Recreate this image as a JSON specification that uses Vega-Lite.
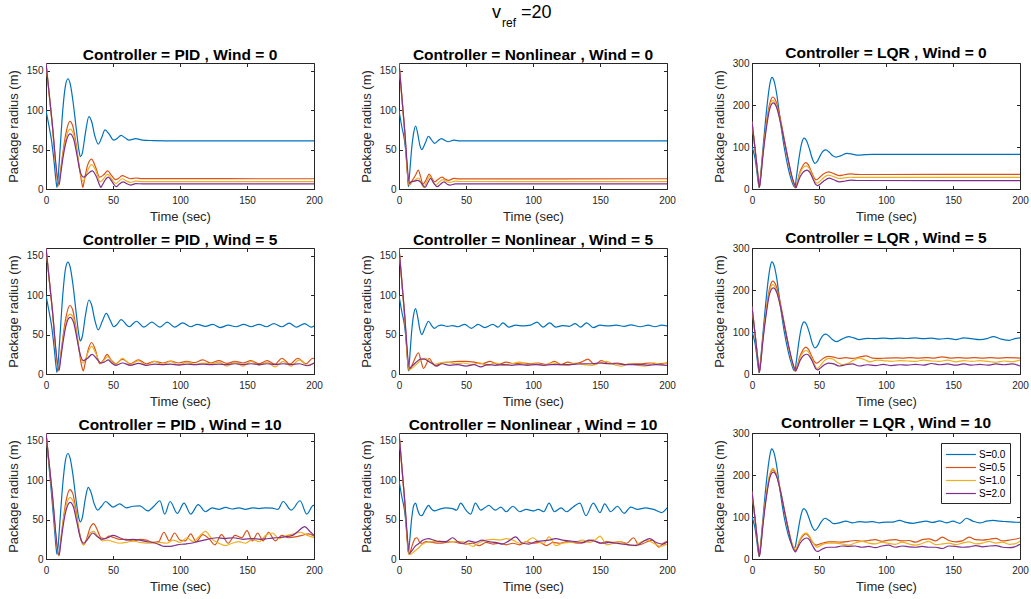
{
"$schema":"https://vega.github.io/schema/vega-lite/v6.json",
"background":"white",
"padding":{"left":6,"top":4,"right":5,"bottom":5},
"title":{"text":"v\u00a0\u00a0\u00a0\u00a0=20","subtitle":"\u200b\u00a0\u00a0\u00a0ref","fontSize":18,"fontWeight":"normal","font":"Liberation Sans","color":"#000","subtitleFontSize":12,"subtitleFont":"Liberation Sans","subtitleColor":"#000","subtitlePadding":-4,"anchor":"start","align":"left","frame":"group","dx":446,"offset":16},
"config":{
"font":"Liberation Sans",
"view":{"stroke":"#262626","strokeWidth":1},
"axis":{"grid":false,"labelFont":"Liberation Sans","labelFontSize":10,"labelColor":"#262626","titleFont":"Liberation Sans","titleFontSize":13,"titleFontWeight":"normal","titleColor":"#262626","domainColor":"#262626","tickColor":"#262626","tickSize":-3.5,"labelFlush":false,"labelOverlap":false},
"axisX":{"labelPadding":9.5,"titlePadding":5},
"axisY":{"labelPadding":6.5,"titlePadding":6},
"title":{"font":"Liberation Sans","fontSize":15.5,"fontWeight":"bold","color":"#000","offset":-3}
},
"datasets":{
"p0":[
{"s":0,"t":0,"r":100},{"s":0,"t":2,"r":82},{"s":0,"t":4,"r":63},{"s":0,"t":6,"r":35},{"s":0,"t":7.5,"r":10},{"s":0,"t":8.2,"r":2},{"s":0,"t":9,"r":14},{"s":0,"t":10.5,"r":50},{"s":0,"t":12.5,"r":100},{"s":0,"t":14.5,"r":131},{"s":0,"t":16.3,"r":140},{"s":0,"t":18,"r":134},{"s":0,"t":20,"r":113},{"s":0,"t":22.5,"r":78},{"s":0,"t":24.5,"r":50},{"s":0,"t":25.7,"r":41},{"s":0,"t":27,"r":45},{"s":0,"t":29.5,"r":72},{"s":0,"t":32,"r":92},{"s":0,"t":34,"r":86},{"s":0,"t":36.5,"r":67},{"s":0,"t":39,"r":57},{"s":0,"t":41.5,"r":65},{"s":0,"t":44,"r":75},{"s":0,"t":47,"r":70},{"s":0,"t":50.5,"r":62},{"s":0,"t":53,"r":64},{"s":0,"t":56,"r":68},{"s":0,"t":59,"r":65},{"s":0,"t":62,"r":62},{"s":0,"t":67,"r":64},{"s":0,"t":72,"r":62},{"s":0,"t":80,"r":61.5},{"s":0,"t":100,"r":61},{"s":0,"t":200,"r":61},
{"s":0.5,"t":0,"r":160},{"s":0.5,"t":4.5,"r":85},{"s":0.5,"t":9.4,"r":4},{"s":0.5,"t":10.5,"r":18},{"s":0.5,"t":12.5,"r":45},{"s":0.5,"t":15,"r":72},{"s":0.5,"t":17.8,"r":86},{"s":0.5,"t":20,"r":80},{"s":0.5,"t":22,"r":62},{"s":0.5,"t":24.5,"r":32},{"s":0.5,"t":26.5,"r":10},{"s":0.5,"t":27.5,"r":2},{"s":0.5,"t":28.5,"r":10},{"s":0.5,"t":31,"r":30},{"s":0.5,"t":34,"r":38},{"s":0.5,"t":37,"r":28},{"s":0.5,"t":40,"r":15},{"s":0.5,"t":43,"r":18},{"s":0.5,"t":46,"r":23},{"s":0.5,"t":49,"r":17},{"s":0.5,"t":52,"r":12},{"s":0.5,"t":54.5,"r":14},{"s":0.5,"t":57,"r":17},{"s":0.5,"t":60,"r":15},{"s":0.5,"t":63,"r":13},{"s":0.5,"t":67,"r":14},{"s":0.5,"t":72,"r":13.2},{"s":0.5,"t":200,"r":13},
{"s":1,"t":0,"r":160},{"s":1,"t":4.5,"r":85},{"s":1,"t":9.5,"r":5},{"s":1,"t":10.6,"r":18},{"s":1,"t":12.5,"r":42},{"s":1,"t":15,"r":65},{"s":1,"t":18,"r":76},{"s":1,"t":20.5,"r":70},{"s":1,"t":23,"r":48},{"s":1,"t":25.5,"r":22},{"s":1,"t":27.5,"r":10},{"s":1,"t":29,"r":13},{"s":1,"t":31.5,"r":25},{"s":1,"t":34,"r":31},{"s":1,"t":37,"r":24},{"s":1,"t":40.5,"r":9},{"s":1,"t":43,"r":13},{"s":1,"t":46,"r":19},{"s":1,"t":49,"r":13},{"s":1,"t":52,"r":7},{"s":1,"t":54.5,"r":10},{"s":1,"t":57,"r":13},{"s":1,"t":60,"r":10},{"s":1,"t":63,"r":8.5},{"s":1,"t":67,"r":10},{"s":1,"t":72,"r":9.4},{"s":1,"t":200,"r":9.3},
{"s":2,"t":0,"r":160},{"s":2,"t":4.5,"r":86},{"s":2,"t":9.8,"r":6},{"s":2,"t":10.8,"r":17},{"s":2,"t":12.5,"r":38},{"s":2,"t":15,"r":60},{"s":2,"t":18,"r":70},{"s":2,"t":20.5,"r":64},{"s":2,"t":23,"r":44},{"s":2,"t":25.5,"r":22},{"s":2,"t":28,"r":15},{"s":2,"t":30.5,"r":18},{"s":2,"t":34.5,"r":23},{"s":2,"t":37.5,"r":16},{"s":2,"t":40,"r":5},{"s":2,"t":41,"r":2},{"s":2,"t":42,"r":5},{"s":2,"t":44,"r":11},{"s":2,"t":46.5,"r":15},{"s":2,"t":49,"r":10},{"s":2,"t":51.5,"r":4},{"s":2,"t":52.5,"r":3},{"s":2,"t":54.5,"r":6},{"s":2,"t":57.5,"r":9},{"s":2,"t":60,"r":7},{"s":2,"t":63,"r":5},{"s":2,"t":67,"r":6.8},{"s":2,"t":72,"r":6.5},{"s":2,"t":200,"r":6.5}
],
"n0":[
{"s":0,"t":0,"r":100},{"s":0,"t":2,"r":80},{"s":0,"t":4,"r":63},{"s":0,"t":5.5,"r":40},{"s":0,"t":6.5,"r":15},{"s":0,"t":7,"r":3},{"s":0,"t":7.7,"r":15},{"s":0,"t":9.5,"r":52},{"s":0,"t":11,"r":72},{"s":0,"t":12.4,"r":80},{"s":0,"t":14,"r":70},{"s":0,"t":15.5,"r":56},{"s":0,"t":17,"r":50},{"s":0,"t":19.5,"r":58},{"s":0,"t":22,"r":67},{"s":0,"t":24,"r":63},{"s":0,"t":26.6,"r":58},{"s":0,"t":29,"r":61},{"s":0,"t":31.5,"r":64},{"s":0,"t":34,"r":62},{"s":0,"t":36.5,"r":60},{"s":0,"t":41,"r":62},{"s":0,"t":46,"r":61},{"s":0,"t":200,"r":61},
{"s":0.5,"t":0,"r":160},{"s":0.5,"t":4,"r":78},{"s":0.5,"t":7.3,"r":5},{"s":0.5,"t":8.3,"r":6},{"s":0.5,"t":10,"r":11},{"s":0.5,"t":12.5,"r":18},{"s":0.5,"t":14.4,"r":24},{"s":0.5,"t":16.2,"r":15},{"s":0.5,"t":17.8,"r":6},{"s":0.5,"t":20,"r":11},{"s":0.5,"t":22.5,"r":19},{"s":0.5,"t":24.5,"r":14},{"s":0.5,"t":26.5,"r":9},{"s":0.5,"t":29,"r":12},{"s":0.5,"t":32,"r":15},{"s":0.5,"t":35,"r":12},{"s":0.5,"t":37,"r":11},{"s":0.5,"t":41,"r":13.5},{"s":0.5,"t":45,"r":12.8},{"s":0.5,"t":200,"r":13},
{"s":1,"t":0,"r":160},{"s":1,"t":4,"r":79},{"s":1,"t":7.6,"r":5},{"s":1,"t":8.5,"r":8},{"s":1,"t":11,"r":10},{"s":1,"t":14.5,"r":14},{"s":1,"t":17,"r":6},{"s":1,"t":18.5,"r":2},{"s":1,"t":20.5,"r":9},{"s":1,"t":23,"r":16},{"s":1,"t":25.5,"r":9},{"s":1,"t":27.5,"r":5},{"s":1,"t":30,"r":9},{"s":1,"t":33,"r":12},{"s":1,"t":36,"r":9},{"s":1,"t":38,"r":8.5},{"s":1,"t":42,"r":10},{"s":1,"t":46,"r":9.5},{"s":1,"t":200,"r":9.3},
{"s":2,"t":0,"r":160},{"s":2,"t":4,"r":80},{"s":2,"t":7.9,"r":7},{"s":2,"t":9,"r":9},{"s":2,"t":11.5,"r":10},{"s":2,"t":14,"r":11},{"s":2,"t":16.5,"r":8},{"s":2,"t":19.4,"r":2},{"s":2,"t":21.5,"r":8},{"s":2,"t":23.6,"r":13.5},{"s":2,"t":26,"r":7},{"s":2,"t":28.5,"r":3},{"s":2,"t":31,"r":6},{"s":2,"t":33.5,"r":9},{"s":2,"t":36,"r":6},{"s":2,"t":38,"r":5},{"s":2,"t":42,"r":6.5},{"s":2,"t":200,"r":6.5}
],
"l0":[
{"s":0,"t":0,"r":100},{"s":0,"t":1,"r":90},{"s":0,"t":2.2,"r":74},{"s":0,"t":3.5,"r":45},{"s":0,"t":4.8,"r":12},{"s":0,"t":5.3,"r":3},{"s":0,"t":6,"r":20},{"s":0,"t":8,"r":90},{"s":0,"t":10,"r":160},{"s":0,"t":12,"r":220},{"s":0,"t":13.5,"r":253},{"s":0,"t":14.9,"r":266},{"s":0,"t":16.5,"r":257},{"s":0,"t":18.5,"r":225},{"s":0,"t":21,"r":165},{"s":0,"t":24,"r":100},{"s":0,"t":27,"r":50},{"s":0,"t":29.5,"r":20},{"s":0,"t":31.3,"r":6},{"s":0,"t":32,"r":4},{"s":0,"t":33,"r":25},{"s":0,"t":35,"r":72},{"s":0,"t":37,"r":108},{"s":0,"t":38.9,"r":121},{"s":0,"t":40.5,"r":116},{"s":0,"t":43,"r":94},{"s":0,"t":45,"r":72},{"s":0,"t":47,"r":61},{"s":0,"t":49,"r":67},{"s":0,"t":51,"r":80},{"s":0,"t":53,"r":90},{"s":0,"t":55.2,"r":93},{"s":0,"t":57.5,"r":88},{"s":0,"t":60,"r":80},{"s":0,"t":63,"r":76},{"s":0,"t":66,"r":79},{"s":0,"t":71,"r":85},{"s":0,"t":75,"r":83},{"s":0,"t":79,"r":80.5},{"s":0,"t":85,"r":82},{"s":0,"t":90,"r":82.5},{"s":0,"t":200,"r":82.5},
{"s":0.5,"t":0,"r":160},{"s":0.5,"t":2.5,"r":89},{"s":0.5,"t":4.5,"r":30},{"s":0.5,"t":5.4,"r":4},{"s":0.5,"t":6.3,"r":25},{"s":0.5,"t":8,"r":80},{"s":0.5,"t":10.5,"r":150},{"s":0.5,"t":13,"r":200},{"s":0.5,"t":15.5,"r":219},{"s":0.5,"t":18,"r":208},{"s":0.5,"t":21,"r":170},{"s":0.5,"t":24,"r":120},{"s":0.5,"t":27,"r":70},{"s":0.5,"t":30,"r":25},{"s":0.5,"t":32,"r":6},{"s":0.5,"t":32.5,"r":3},{"s":0.5,"t":33.3,"r":10},{"s":0.5,"t":35.5,"r":38},{"s":0.5,"t":38,"r":56},{"s":0.5,"t":40,"r":63},{"s":0.5,"t":42,"r":58},{"s":0.5,"t":44.5,"r":40},{"s":0.5,"t":46.5,"r":26},{"s":0.5,"t":48,"r":22},{"s":0.5,"t":50,"r":26},{"s":0.5,"t":53,"r":35},{"s":0.5,"t":57,"r":41},{"s":0.5,"t":60,"r":38},{"s":0.5,"t":65,"r":32},{"s":0.5,"t":69,"r":34},{"s":0.5,"t":73,"r":36},{"s":0.5,"t":78,"r":35},{"s":0.5,"t":85,"r":34.5},{"s":0.5,"t":200,"r":35},
{"s":1,"t":0,"r":160},{"s":1,"t":2.5,"r":89},{"s":1,"t":4.5,"r":30},{"s":1,"t":5.4,"r":4},{"s":1,"t":6.3,"r":24},{"s":1,"t":8,"r":78},{"s":1,"t":10.5,"r":146},{"s":1,"t":13,"r":194},{"s":1,"t":15.5,"r":211},{"s":1,"t":18,"r":200},{"s":1,"t":21,"r":163},{"s":1,"t":24,"r":115},{"s":1,"t":27,"r":67},{"s":1,"t":30,"r":24},{"s":1,"t":32,"r":6},{"s":1,"t":32.5,"r":4},{"s":1,"t":33.3,"r":10},{"s":1,"t":35.5,"r":35},{"s":1,"t":38,"r":50},{"s":1,"t":40.5,"r":55},{"s":1,"t":42.5,"r":50},{"s":1,"t":45,"r":32},{"s":1,"t":47,"r":18},{"s":1,"t":48.5,"r":14},{"s":1,"t":50.5,"r":18},{"s":1,"t":53.5,"r":27},{"s":1,"t":57,"r":33},{"s":1,"t":60.5,"r":30},{"s":1,"t":65,"r":25},{"s":1,"t":69,"r":26.5},{"s":1,"t":73,"r":28},{"s":1,"t":78,"r":27.5},{"s":1,"t":200,"r":27.5},
{"s":2,"t":0,"r":160},{"s":2,"t":2.5,"r":89},{"s":2,"t":4.5,"r":30},{"s":2,"t":5.5,"r":4},{"s":2,"t":6.4,"r":23},{"s":2,"t":8,"r":75},{"s":2,"t":10.5,"r":140},{"s":2,"t":13,"r":188},{"s":2,"t":15.8,"r":205},{"s":2,"t":18.5,"r":193},{"s":2,"t":21.5,"r":155},{"s":2,"t":24.5,"r":108},{"s":2,"t":27.5,"r":62},{"s":2,"t":30.5,"r":22},{"s":2,"t":32.3,"r":6},{"s":2,"t":32.8,"r":3},{"s":2,"t":33.6,"r":9},{"s":2,"t":36,"r":30},{"s":2,"t":38.5,"r":41},{"s":2,"t":41,"r":45},{"s":2,"t":43,"r":40},{"s":2,"t":45.5,"r":24},{"s":2,"t":47.5,"r":11},{"s":2,"t":49,"r":8},{"s":2,"t":51,"r":12},{"s":2,"t":54,"r":20},{"s":2,"t":57.5,"r":26},{"s":2,"t":61,"r":22},{"s":2,"t":65.5,"r":17},{"s":2,"t":69.5,"r":19},{"s":2,"t":74,"r":21},{"s":2,"t":79,"r":20.2},{"s":2,"t":200,"r":20}
],
"p5":[
{"s":0,"t":0,"r":100},{"s":0,"t":2,"r":82},{"s":0,"t":4,"r":63},{"s":0,"t":6,"r":35},{"s":0,"t":7.5,"r":10},{"s":0,"t":8.2,"r":2},{"s":0,"t":9,"r":14},{"s":0,"t":10.5,"r":50},{"s":0,"t":12.5,"r":100},{"s":0,"t":14.5,"r":133},{"s":0,"t":16.3,"r":142},{"s":0,"t":18,"r":136},{"s":0,"t":20,"r":115},{"s":0,"t":22.5,"r":78},{"s":0,"t":24.5,"r":50},{"s":0,"t":25.6,"r":42},{"s":0,"t":27,"r":47},{"s":0,"t":29.5,"r":75},{"s":0,"t":32,"r":94},{"s":0,"t":34,"r":88},{"s":0,"t":36.5,"r":68},{"s":0,"t":39,"r":56},{"s":0,"t":42,"r":67},{"s":0,"t":45,"r":77},{"s":0,"t":48,"r":68},{"s":0,"t":50.5,"r":60},{"s":0,"t":53,"r":63},{"s":0,"t":56,"r":69},{"s":0,"t":62,"r":60},{"s":0,"t":67.5,"r":67},{"s":0,"t":73,"r":59.5},{"s":0,"t":79,"r":66},{"s":0,"t":85,"r":59.5},{"s":0,"t":90.5,"r":66},{"s":0,"t":96,"r":59.5},{"s":0,"t":102,"r":65},{"s":0,"t":108,"r":60},{"s":0,"t":113,"r":63},{"s":0,"t":119,"r":60.5},{"s":0,"t":124.5,"r":63},{"s":0,"t":130,"r":59},{"s":0,"t":136,"r":62},{"s":0,"t":142,"r":60},{"s":0,"t":147.5,"r":63},{"s":0,"t":153,"r":60},{"s":0,"t":159,"r":63},{"s":0,"t":164.5,"r":60},{"s":0,"t":170,"r":64},{"s":0,"t":176,"r":60},{"s":0,"t":181.5,"r":64.5},{"s":0,"t":187,"r":59.5},{"s":0,"t":193,"r":64},{"s":0,"t":198,"r":59.5},{"s":0,"t":200,"r":61},
{"s":0.5,"t":0,"r":160},{"s":0.5,"t":4.5,"r":85},{"s":0.5,"t":9.4,"r":4},{"s":0.5,"t":10.5,"r":18},{"s":0.5,"t":12.5,"r":45},{"s":0.5,"t":15,"r":73},{"s":0.5,"t":17.8,"r":87},{"s":0.5,"t":20,"r":81},{"s":0.5,"t":22,"r":63},{"s":0.5,"t":24.5,"r":33},{"s":0.5,"t":26.5,"r":11},{"s":0.5,"t":27.8,"r":4},{"s":0.5,"t":29,"r":12},{"s":0.5,"t":31.5,"r":31},{"s":0.5,"t":34,"r":40},{"s":0.5,"t":37,"r":30},{"s":0.5,"t":40,"r":13},{"s":0.5,"t":43,"r":18},{"s":0.5,"t":45.5,"r":25},{"s":0.5,"t":48.5,"r":18},{"s":0.5,"t":52,"r":13},{"s":0.5,"t":57,"r":19},{"s":0.5,"t":63,"r":13},{"s":0.5,"t":69,"r":18},{"s":0.5,"t":75,"r":13},{"s":0.5,"t":81,"r":16},{"s":0.5,"t":87,"r":14},{"s":0.5,"t":93,"r":16.5},{"s":0.5,"t":99,"r":14},{"s":0.5,"t":105,"r":16},{"s":0.5,"t":111,"r":14.5},{"s":0.5,"t":117,"r":18},{"s":0.5,"t":123,"r":14},{"s":0.5,"t":129,"r":17},{"s":0.5,"t":135,"r":13.5},{"s":0.5,"t":141,"r":16},{"s":0.5,"t":147,"r":14},{"s":0.5,"t":153,"r":17},{"s":0.5,"t":159,"r":13},{"s":0.5,"t":165,"r":17},{"s":0.5,"t":171,"r":12.5},{"s":0.5,"t":176,"r":20},{"s":0.5,"t":182,"r":12.5},{"s":0.5,"t":188,"r":20},{"s":0.5,"t":194,"r":13},{"s":0.5,"t":199,"r":20},{"s":0.5,"t":200,"r":19.5},
{"s":1,"t":0,"r":160},{"s":1,"t":4.5,"r":85},{"s":1,"t":9.5,"r":5},{"s":1,"t":10.6,"r":18},{"s":1,"t":12.5,"r":42},{"s":1,"t":15,"r":66},{"s":1,"t":18,"r":76},{"s":1,"t":20.5,"r":71},{"s":1,"t":23,"r":50},{"s":1,"t":25.5,"r":24},{"s":1,"t":27.5,"r":14},{"s":1,"t":29.5,"r":19},{"s":1,"t":31.5,"r":28},{"s":1,"t":34,"r":35},{"s":1,"t":37,"r":27},{"s":1,"t":40.5,"r":14},{"s":1,"t":43,"r":17},{"s":1,"t":46,"r":22},{"s":1,"t":49,"r":16},{"s":1,"t":52,"r":12},{"s":1,"t":57,"r":20},{"s":1,"t":63,"r":12},{"s":1,"t":69,"r":17},{"s":1,"t":75,"r":11},{"s":1,"t":81,"r":16},{"s":1,"t":87,"r":12},{"s":1,"t":93,"r":16},{"s":1,"t":99,"r":11},{"s":1,"t":105,"r":15},{"s":1,"t":111,"r":12},{"s":1,"t":117,"r":14},{"s":1,"t":123,"r":13},{"s":1,"t":129,"r":15},{"s":1,"t":135,"r":10},{"s":1,"t":141,"r":15},{"s":1,"t":147,"r":10},{"s":1,"t":153,"r":16},{"s":1,"t":159,"r":11},{"s":1,"t":165,"r":15},{"s":1,"t":171,"r":9},{"s":1,"t":177,"r":16},{"s":1,"t":183,"r":10},{"s":1,"t":189,"r":18},{"s":1,"t":195,"r":11},{"s":1,"t":200,"r":14},
{"s":2,"t":0,"r":160},{"s":2,"t":4.5,"r":86},{"s":2,"t":9.8,"r":5},{"s":2,"t":10.8,"r":17},{"s":2,"t":12.5,"r":38},{"s":2,"t":15,"r":62},{"s":2,"t":18,"r":72},{"s":2,"t":20.5,"r":66},{"s":2,"t":23,"r":46},{"s":2,"t":25.5,"r":25},{"s":2,"t":28,"r":17},{"s":2,"t":31,"r":20},{"s":2,"t":34.5,"r":25},{"s":2,"t":37.5,"r":20},{"s":2,"t":41,"r":14},{"s":2,"t":44,"r":15.5},{"s":2,"t":46.5,"r":18},{"s":2,"t":49,"r":14},{"s":2,"t":52,"r":11},{"s":2,"t":57,"r":14},{"s":2,"t":63,"r":11},{"s":2,"t":69,"r":13.5},{"s":2,"t":75,"r":11},{"s":2,"t":81,"r":12.5},{"s":2,"t":87,"r":12},{"s":2,"t":93,"r":12.5},{"s":2,"t":99,"r":11.5},{"s":2,"t":105,"r":12.5},{"s":2,"t":111,"r":12},{"s":2,"t":117,"r":12.5},{"s":2,"t":123,"r":12},{"s":2,"t":129,"r":12.5},{"s":2,"t":135,"r":12},{"s":2,"t":141,"r":13},{"s":2,"t":147,"r":12},{"s":2,"t":153,"r":13},{"s":2,"t":159,"r":12},{"s":2,"t":165,"r":13},{"s":2,"t":171,"r":12},{"s":2,"t":177,"r":13},{"s":2,"t":183,"r":12},{"s":2,"t":189,"r":13},{"s":2,"t":195,"r":10.5},{"s":2,"t":200,"r":14}
],
"n5":[
{"s":0,"t":0,"r":100},{"s":0,"t":2,"r":80},{"s":0,"t":4,"r":63},{"s":0,"t":5.5,"r":40},{"s":0,"t":6.5,"r":15},{"s":0,"t":7,"r":4},{"s":0,"t":7.7,"r":15},{"s":0,"t":9.5,"r":55},{"s":0,"t":11,"r":76},{"s":0,"t":12.3,"r":83},{"s":0,"t":14,"r":72},{"s":0,"t":15.5,"r":57},{"s":0,"t":17,"r":50},{"s":0,"t":19.5,"r":59},{"s":0,"t":22,"r":67},{"s":0,"t":24.5,"r":61},{"s":0,"t":26.5,"r":58},{"s":0,"t":29,"r":61},{"s":0,"t":32,"r":62},{"s":0,"t":36,"r":60.5},{"s":0,"t":40,"r":61.5},{"s":0,"t":44,"r":60},{"s":0,"t":49,"r":63},{"s":0,"t":54,"r":58},{"s":0,"t":59,"r":63},{"s":0,"t":64,"r":59},{"s":0,"t":70,"r":63},{"s":0,"t":74,"r":59.5},{"s":0,"t":77.5,"r":65},{"s":0,"t":82,"r":59.5},{"s":0,"t":87,"r":62},{"s":0,"t":93,"r":61},{"s":0,"t":98,"r":62},{"s":0,"t":103,"r":66},{"s":0,"t":107.5,"r":59.5},{"s":0,"t":112.5,"r":65},{"s":0,"t":117,"r":59.5},{"s":0,"t":122,"r":61.5},{"s":0,"t":127,"r":60.5},{"s":0,"t":131.5,"r":64},{"s":0,"t":135.5,"r":59.5},{"s":0,"t":140,"r":65},{"s":0,"t":145,"r":59},{"s":0,"t":150,"r":62},{"s":0,"t":156,"r":61},{"s":0,"t":162,"r":62},{"s":0,"t":168,"r":60.5},{"s":0,"t":173,"r":62.5},{"s":0,"t":180,"r":60},{"s":0,"t":186,"r":62},{"s":0,"t":191,"r":60},{"s":0,"t":196,"r":62},{"s":0,"t":200,"r":61},
{"s":0.5,"t":0,"r":160},{"s":0.5,"t":4,"r":78},{"s":0.5,"t":7.3,"r":5},{"s":0.5,"t":8.2,"r":6},{"s":0.5,"t":10,"r":12},{"s":0.5,"t":12.5,"r":22},{"s":0.5,"t":14.5,"r":27},{"s":0.5,"t":16.5,"r":16},{"s":0.5,"t":18.3,"r":7},{"s":0.5,"t":20.5,"r":13},{"s":0.5,"t":22.5,"r":20},{"s":0.5,"t":25,"r":14},{"s":0.5,"t":28,"r":11},{"s":0.5,"t":32,"r":14},{"s":0.5,"t":38,"r":15},{"s":0.5,"t":44,"r":16},{"s":0.5,"t":50,"r":16},{"s":0.5,"t":56,"r":15},{"s":0.5,"t":62,"r":13},{"s":0.5,"t":68,"r":16},{"s":0.5,"t":74,"r":12},{"s":0.5,"t":80,"r":15},{"s":0.5,"t":86,"r":13},{"s":0.5,"t":92,"r":14},{"s":0.5,"t":98,"r":13},{"s":0.5,"t":104,"r":14},{"s":0.5,"t":110,"r":12},{"s":0.5,"t":116,"r":16},{"s":0.5,"t":121,"r":12},{"s":0.5,"t":126,"r":15},{"s":0.5,"t":131,"r":13},{"s":0.5,"t":136,"r":15},{"s":0.5,"t":141,"r":19},{"s":0.5,"t":146,"r":12},{"s":0.5,"t":151,"r":17},{"s":0.5,"t":157,"r":13},{"s":0.5,"t":163,"r":14},{"s":0.5,"t":169,"r":12},{"s":0.5,"t":175,"r":13},{"s":0.5,"t":181,"r":13},{"s":0.5,"t":187,"r":14},{"s":0.5,"t":193,"r":13},{"s":0.5,"t":200,"r":14},
{"s":1,"t":0,"r":160},{"s":1,"t":4,"r":79},{"s":1,"t":7.6,"r":5},{"s":1,"t":8.5,"r":6},{"s":1,"t":11,"r":9},{"s":1,"t":14,"r":14},{"s":1,"t":17,"r":19},{"s":1,"t":20,"r":20},{"s":1,"t":23,"r":16},{"s":1,"t":26,"r":12},{"s":1,"t":30,"r":14},{"s":1,"t":36,"r":15},{"s":1,"t":42,"r":13},{"s":1,"t":48,"r":14},{"s":1,"t":54,"r":12},{"s":1,"t":60,"r":14},{"s":1,"t":66,"r":11},{"s":1,"t":72,"r":14},{"s":1,"t":78,"r":11},{"s":1,"t":84,"r":13},{"s":1,"t":90,"r":15},{"s":1,"t":96,"r":12},{"s":1,"t":102,"r":13},{"s":1,"t":108,"r":11},{"s":1,"t":114,"r":14},{"s":1,"t":120,"r":12},{"s":1,"t":126,"r":11},{"s":1,"t":132,"r":14},{"s":1,"t":138,"r":12},{"s":1,"t":144,"r":11},{"s":1,"t":150,"r":14},{"s":1,"t":155,"r":16},{"s":1,"t":160,"r":12},{"s":1,"t":166,"r":10},{"s":1,"t":172,"r":13},{"s":1,"t":178,"r":11},{"s":1,"t":184,"r":10},{"s":1,"t":190,"r":14},{"s":1,"t":196,"r":12},{"s":1,"t":200,"r":15},
{"s":2,"t":0,"r":160},{"s":2,"t":4,"r":80},{"s":2,"t":7.9,"r":7},{"s":2,"t":9,"r":9},{"s":2,"t":11,"r":12},{"s":2,"t":13.5,"r":16},{"s":2,"t":16,"r":19},{"s":2,"t":19,"r":19},{"s":2,"t":22,"r":16},{"s":2,"t":25,"r":13},{"s":2,"t":28,"r":10},{"s":2,"t":32,"r":13},{"s":2,"t":38,"r":11},{"s":2,"t":44,"r":12},{"s":2,"t":50,"r":10},{"s":2,"t":56,"r":12},{"s":2,"t":61,"r":9},{"s":2,"t":66,"r":12},{"s":2,"t":72,"r":11},{"s":2,"t":78,"r":12},{"s":2,"t":84,"r":11},{"s":2,"t":90,"r":12},{"s":2,"t":96,"r":11},{"s":2,"t":102,"r":12},{"s":2,"t":108,"r":11},{"s":2,"t":114,"r":12},{"s":2,"t":120,"r":12},{"s":2,"t":126,"r":12},{"s":2,"t":132,"r":12.5},{"s":2,"t":138,"r":13},{"s":2,"t":144,"r":13},{"s":2,"t":150,"r":14},{"s":2,"t":156,"r":13},{"s":2,"t":162,"r":13},{"s":2,"t":168,"r":12},{"s":2,"t":174,"r":12},{"s":2,"t":180,"r":12},{"s":2,"t":186,"r":11},{"s":2,"t":192,"r":12},{"s":2,"t":200,"r":11}
],
"l5":[
{"s":0,"t":0,"r":100},{"s":0,"t":1,"r":90},{"s":0,"t":2.2,"r":74},{"s":0,"t":3.5,"r":45},{"s":0,"t":4.8,"r":12},{"s":0,"t":5.3,"r":3},{"s":0,"t":6,"r":20},{"s":0,"t":8,"r":90},{"s":0,"t":10,"r":160},{"s":0,"t":12,"r":221},{"s":0,"t":13.5,"r":254},{"s":0,"t":14.9,"r":267},{"s":0,"t":16.5,"r":258},{"s":0,"t":18.5,"r":227},{"s":0,"t":21,"r":167},{"s":0,"t":24,"r":102},{"s":0,"t":27,"r":54},{"s":0,"t":29.5,"r":24},{"s":0,"t":31.3,"r":9},{"s":0,"t":32,"r":8},{"s":0,"t":33,"r":28},{"s":0,"t":35,"r":77},{"s":0,"t":37,"r":112},{"s":0,"t":38.9,"r":124},{"s":0,"t":40.5,"r":119},{"s":0,"t":43,"r":96},{"s":0,"t":45,"r":73},{"s":0,"t":47,"r":62},{"s":0,"t":49,"r":68},{"s":0,"t":51,"r":82},{"s":0,"t":53,"r":92},{"s":0,"t":55,"r":95},{"s":0,"t":57.5,"r":90},{"s":0,"t":60,"r":82},{"s":0,"t":63,"r":77},{"s":0,"t":67,"r":83},{"s":0,"t":72,"r":89},{"s":0,"t":76,"r":86},{"s":0,"t":80,"r":82},{"s":0,"t":86,"r":85},{"s":0,"t":92,"r":84},{"s":0,"t":98,"r":85.5},{"s":0,"t":104,"r":84},{"s":0,"t":110,"r":85.5},{"s":0,"t":116,"r":84.5},{"s":0,"t":122,"r":86},{"s":0,"t":128,"r":84},{"s":0,"t":134,"r":85.5},{"s":0,"t":140,"r":83},{"s":0,"t":146,"r":85},{"s":0,"t":152,"r":82},{"s":0,"t":158,"r":86},{"s":0,"t":164,"r":84},{"s":0,"t":170,"r":82},{"s":0,"t":176,"r":85},{"s":0,"t":180,"r":89},{"s":0,"t":186,"r":83},{"s":0,"t":192,"r":80},{"s":0,"t":197,"r":85},{"s":0,"t":200,"r":86},
{"s":0.5,"t":0,"r":160},{"s":0.5,"t":2.5,"r":89},{"s":0.5,"t":4.5,"r":30},{"s":0.5,"t":5.4,"r":5},{"s":0.5,"t":6.3,"r":25},{"s":0.5,"t":8,"r":80},{"s":0.5,"t":10.5,"r":150},{"s":0.5,"t":13,"r":202},{"s":0.5,"t":15.5,"r":221},{"s":0.5,"t":18,"r":210},{"s":0.5,"t":21,"r":172},{"s":0.5,"t":24,"r":122},{"s":0.5,"t":27,"r":72},{"s":0.5,"t":30,"r":28},{"s":0.5,"t":32,"r":10},{"s":0.5,"t":32.5,"r":6},{"s":0.5,"t":33.3,"r":13},{"s":0.5,"t":35.5,"r":40},{"s":0.5,"t":38,"r":57},{"s":0.5,"t":40,"r":64},{"s":0.5,"t":42,"r":59},{"s":0.5,"t":44.5,"r":43},{"s":0.5,"t":46.5,"r":30},{"s":0.5,"t":48,"r":26},{"s":0.5,"t":50,"r":29},{"s":0.5,"t":53,"r":37},{"s":0.5,"t":57,"r":42},{"s":0.5,"t":61,"r":40},{"s":0.5,"t":65,"r":37},{"s":0.5,"t":70,"r":39},{"s":0.5,"t":75,"r":37},{"s":0.5,"t":80,"r":40},{"s":0.5,"t":85,"r":43},{"s":0.5,"t":90,"r":38},{"s":0.5,"t":95,"r":37},{"s":0.5,"t":100,"r":38},{"s":0.5,"t":106,"r":38.5},{"s":0.5,"t":112,"r":38},{"s":0.5,"t":118,"r":39},{"s":0.5,"t":124,"r":38},{"s":0.5,"t":130,"r":39},{"s":0.5,"t":136,"r":38},{"s":0.5,"t":142,"r":41},{"s":0.5,"t":148,"r":38},{"s":0.5,"t":154,"r":39},{"s":0.5,"t":160,"r":38},{"s":0.5,"t":166,"r":39},{"s":0.5,"t":172,"r":38},{"s":0.5,"t":178,"r":39},{"s":0.5,"t":184,"r":38},{"s":0.5,"t":190,"r":39},{"s":0.5,"t":200,"r":38},
{"s":1,"t":0,"r":160},{"s":1,"t":2.5,"r":89},{"s":1,"t":4.5,"r":30},{"s":1,"t":5.4,"r":5},{"s":1,"t":6.3,"r":24},{"s":1,"t":8,"r":78},{"s":1,"t":10.5,"r":147},{"s":1,"t":13,"r":196},{"s":1,"t":15.5,"r":213},{"s":1,"t":18,"r":202},{"s":1,"t":21,"r":165},{"s":1,"t":24,"r":117},{"s":1,"t":27,"r":69},{"s":1,"t":30,"r":26},{"s":1,"t":32,"r":9},{"s":1,"t":32.5,"r":7},{"s":1,"t":33.3,"r":12},{"s":1,"t":35.5,"r":36},{"s":1,"t":38,"r":51},{"s":1,"t":40.5,"r":56},{"s":1,"t":42.5,"r":51},{"s":1,"t":45,"r":35},{"s":1,"t":47,"r":20},{"s":1,"t":48.5,"r":13},{"s":1,"t":50.5,"r":18},{"s":1,"t":53.5,"r":30},{"s":1,"t":57,"r":37},{"s":1,"t":60,"r":36},{"s":1,"t":64,"r":27},{"s":1,"t":68,"r":22},{"s":1,"t":72,"r":26},{"s":1,"t":76,"r":33},{"s":1,"t":80,"r":38},{"s":1,"t":84,"r":34},{"s":1,"t":88,"r":29},{"s":1,"t":93,"r":33},{"s":1,"t":98,"r":32},{"s":1,"t":104,"r":30},{"s":1,"t":110,"r":32},{"s":1,"t":116,"r":31},{"s":1,"t":122,"r":30},{"s":1,"t":128,"r":33},{"s":1,"t":134,"r":31},{"s":1,"t":140,"r":30},{"s":1,"t":146,"r":33},{"s":1,"t":152,"r":29},{"s":1,"t":158,"r":32},{"s":1,"t":164,"r":30},{"s":1,"t":170,"r":32},{"s":1,"t":176,"r":30},{"s":1,"t":182,"r":28},{"s":1,"t":188,"r":31},{"s":1,"t":194,"r":29},{"s":1,"t":200,"r":33},
{"s":2,"t":0,"r":160},{"s":2,"t":2.5,"r":89},{"s":2,"t":4.5,"r":30},{"s":2,"t":5.5,"r":4},{"s":2,"t":6.4,"r":23},{"s":2,"t":8,"r":75},{"s":2,"t":10.5,"r":140},{"s":2,"t":13,"r":189},{"s":2,"t":15.8,"r":205},{"s":2,"t":18.5,"r":194},{"s":2,"t":21.5,"r":157},{"s":2,"t":24.5,"r":110},{"s":2,"t":27.5,"r":64},{"s":2,"t":30.5,"r":25},{"s":2,"t":32.3,"r":9},{"s":2,"t":32.8,"r":8},{"s":2,"t":33.6,"r":13},{"s":2,"t":36,"r":33},{"s":2,"t":38.5,"r":44},{"s":2,"t":41,"r":47},{"s":2,"t":43,"r":42},{"s":2,"t":45.5,"r":27},{"s":2,"t":47.5,"r":13},{"s":2,"t":49,"r":10},{"s":2,"t":51,"r":14},{"s":2,"t":54,"r":22},{"s":2,"t":57,"r":26},{"s":2,"t":61,"r":24},{"s":2,"t":65,"r":19},{"s":2,"t":70,"r":22},{"s":2,"t":75,"r":24},{"s":2,"t":80,"r":19},{"s":2,"t":86,"r":22},{"s":2,"t":92,"r":20},{"s":2,"t":98,"r":23},{"s":2,"t":104,"r":20},{"s":2,"t":110,"r":22},{"s":2,"t":116,"r":21},{"s":2,"t":122,"r":23},{"s":2,"t":128,"r":21},{"s":2,"t":134,"r":25},{"s":2,"t":140,"r":22},{"s":2,"t":146,"r":24},{"s":2,"t":152,"r":21},{"s":2,"t":158,"r":24},{"s":2,"t":164,"r":21},{"s":2,"t":170,"r":23},{"s":2,"t":176,"r":21},{"s":2,"t":182,"r":24},{"s":2,"t":188,"r":22},{"s":2,"t":194,"r":24},{"s":2,"t":200,"r":19}
],
"p10":[
{"s":0,"t":0,"r":160},{"s":0,"t":4,"r":85},{"s":0,"t":6.5,"r":35},{"s":0,"t":7.5,"r":15},{"s":0,"t":8.2,"r":6},{"s":0,"t":9,"r":16},{"s":0,"t":10.5,"r":50},{"s":0,"t":12.5,"r":95},{"s":0,"t":14.5,"r":125},{"s":0,"t":16.3,"r":134},{"s":0,"t":18,"r":128},{"s":0,"t":20,"r":108},{"s":0,"t":22.5,"r":74},{"s":0,"t":24.5,"r":52},{"s":0,"t":25.5,"r":47},{"s":0,"t":27,"r":52},{"s":0,"t":29.5,"r":78},{"s":0,"t":31.5,"r":91},{"s":0,"t":33.5,"r":85},{"s":0,"t":36,"r":70},{"s":0,"t":38.5,"r":62},{"s":0,"t":41.5,"r":67},{"s":0,"t":44.5,"r":73},{"s":0,"t":50,"r":66},{"s":0,"t":55,"r":70},{"s":0,"t":60,"r":65},{"s":0,"t":65,"r":67},{"s":0,"t":70,"r":67.5},{"s":0,"t":76,"r":61},{"s":0,"t":80.5,"r":67},{"s":0,"t":85,"r":74},{"s":0,"t":88.6,"r":57},{"s":0,"t":92.6,"r":73},{"s":0,"t":98,"r":58},{"s":0,"t":103,"r":71},{"s":0,"t":108,"r":57},{"s":0,"t":113.6,"r":69},{"s":0,"t":119,"r":60},{"s":0,"t":124,"r":65},{"s":0,"t":129,"r":63},{"s":0,"t":134,"r":65.5},{"s":0,"t":139,"r":63.5},{"s":0,"t":144,"r":65},{"s":0,"t":149,"r":63},{"s":0,"t":154,"r":65},{"s":0,"t":159,"r":64},{"s":0,"t":164,"r":65},{"s":0,"t":169,"r":64.5},{"s":0,"t":173,"r":63},{"s":0,"t":177,"r":73},{"s":0,"t":183,"r":62},{"s":0,"t":189.6,"r":74},{"s":0,"t":194.6,"r":57},{"s":0,"t":199.5,"r":68},{"s":0,"t":200,"r":68},
{"s":0.5,"t":0,"r":160},{"s":0.5,"t":4.5,"r":85},{"s":0.5,"t":9.5,"r":4},{"s":0.5,"t":10.6,"r":18},{"s":0.5,"t":12.5,"r":45},{"s":0.5,"t":15,"r":74},{"s":0.5,"t":17.8,"r":88},{"s":0.5,"t":20,"r":83},{"s":0.5,"t":22,"r":66},{"s":0.5,"t":24.5,"r":38},{"s":0.5,"t":26.5,"r":22},{"s":0.5,"t":28,"r":18},{"s":0.5,"t":30,"r":24},{"s":0.5,"t":33,"r":40},{"s":0.5,"t":35.5,"r":45},{"s":0.5,"t":38,"r":38},{"s":0.5,"t":41,"r":27},{"s":0.5,"t":44,"r":26},{"s":0.5,"t":47,"r":29},{"s":0.5,"t":51,"r":27},{"s":0.5,"t":55,"r":25},{"s":0.5,"t":60,"r":25},{"s":0.5,"t":65,"r":23},{"s":0.5,"t":70,"r":25},{"s":0.5,"t":75,"r":24},{"s":0.5,"t":80,"r":21},{"s":0.5,"t":84,"r":22},{"s":0.5,"t":88,"r":34},{"s":0.5,"t":92,"r":23},{"s":0.5,"t":96,"r":33},{"s":0.5,"t":100,"r":24},{"s":0.5,"t":104,"r":23},{"s":0.5,"t":108,"r":32},{"s":0.5,"t":112,"r":22},{"s":0.5,"t":117,"r":31},{"s":0.5,"t":122,"r":25},{"s":0.5,"t":126,"r":18},{"s":0.5,"t":131,"r":31},{"s":0.5,"t":136,"r":20},{"s":0.5,"t":141,"r":30},{"s":0.5,"t":146,"r":27},{"s":0.5,"t":150,"r":36},{"s":0.5,"t":154,"r":23},{"s":0.5,"t":158,"r":33},{"s":0.5,"t":162,"r":23},{"s":0.5,"t":166,"r":34},{"s":0.5,"t":171,"r":23},{"s":0.5,"t":176,"r":30},{"s":0.5,"t":181,"r":27},{"s":0.5,"t":186,"r":28},{"s":0.5,"t":191,"r":30},{"s":0.5,"t":196,"r":32},{"s":0.5,"t":200,"r":29},
{"s":1,"t":0,"r":160},{"s":1,"t":4.5,"r":85},{"s":1,"t":9.6,"r":5},{"s":1,"t":10.7,"r":18},{"s":1,"t":12.5,"r":44},{"s":1,"t":15,"r":68},{"s":1,"t":18,"r":78},{"s":1,"t":20.5,"r":72},{"s":1,"t":23,"r":52},{"s":1,"t":25.5,"r":28},{"s":1,"t":28,"r":18},{"s":1,"t":30.5,"r":24},{"s":1,"t":33,"r":33},{"s":1,"t":35.5,"r":35},{"s":1,"t":39,"r":28},{"s":1,"t":42,"r":23},{"s":1,"t":46,"r":24},{"s":1,"t":50,"r":22},{"s":1,"t":55,"r":20},{"s":1,"t":60,"r":21},{"s":1,"t":65,"r":23},{"s":1,"t":70,"r":21},{"s":1,"t":75,"r":20},{"s":1,"t":80,"r":20},{"s":1,"t":85,"r":21},{"s":1,"t":90,"r":20},{"s":1,"t":95,"r":24},{"s":1,"t":100,"r":21},{"s":1,"t":105,"r":27},{"s":1,"t":110,"r":22},{"s":1,"t":114,"r":28},{"s":1,"t":119,"r":35},{"s":1,"t":124,"r":25},{"s":1,"t":129,"r":20},{"s":1,"t":134,"r":17},{"s":1,"t":139,"r":20},{"s":1,"t":144,"r":22},{"s":1,"t":149,"r":20},{"s":1,"t":154,"r":25},{"s":1,"t":159,"r":22},{"s":1,"t":164,"r":30},{"s":1,"t":169,"r":33},{"s":1,"t":174,"r":26},{"s":1,"t":180,"r":30},{"s":1,"t":185,"r":32},{"s":1,"t":190,"r":34},{"s":1,"t":195,"r":30},{"s":1,"t":200,"r":27},
{"s":2,"t":0,"r":160},{"s":2,"t":4.5,"r":86},{"s":2,"t":9.8,"r":5},{"s":2,"t":10.8,"r":17},{"s":2,"t":12.5,"r":39},{"s":2,"t":15,"r":62},{"s":2,"t":18,"r":72},{"s":2,"t":20.5,"r":66},{"s":2,"t":23,"r":47},{"s":2,"t":25.5,"r":28},{"s":2,"t":28,"r":20},{"s":2,"t":31,"r":25},{"s":2,"t":35,"r":33},{"s":2,"t":38,"r":29},{"s":2,"t":42,"r":25},{"s":2,"t":46,"r":27},{"s":2,"t":50,"r":30},{"s":2,"t":55,"r":27},{"s":2,"t":60,"r":24},{"s":2,"t":65,"r":25},{"s":2,"t":70,"r":24},{"s":2,"t":75,"r":22},{"s":2,"t":80,"r":21},{"s":2,"t":85,"r":18},{"s":2,"t":88,"r":16},{"s":2,"t":93,"r":16},{"s":2,"t":98,"r":18},{"s":2,"t":103,"r":19},{"s":2,"t":108,"r":20},{"s":2,"t":113,"r":22},{"s":2,"t":118,"r":24},{"s":2,"t":123,"r":26},{"s":2,"t":128,"r":27},{"s":2,"t":133,"r":26},{"s":2,"t":140,"r":27},{"s":2,"t":147,"r":25},{"s":2,"t":154,"r":26},{"s":2,"t":160,"r":25},{"s":2,"t":166,"r":26},{"s":2,"t":172,"r":27},{"s":2,"t":178,"r":28},{"s":2,"t":184,"r":30},{"s":2,"t":188,"r":35},{"s":2,"t":193,"r":41},{"s":2,"t":197,"r":35},{"s":2,"t":200,"r":30}
],
"n10":[
{"s":0,"t":0,"r":100},{"s":0,"t":2,"r":80},{"s":0,"t":4,"r":63},{"s":0,"t":5.5,"r":40},{"s":0,"t":6.5,"r":18},{"s":0,"t":7,"r":8},{"s":0,"t":7.7,"r":18},{"s":0,"t":9.5,"r":52},{"s":0,"t":11,"r":68},{"s":0,"t":12.3,"r":71},{"s":0,"t":14,"r":62},{"s":0,"t":15.5,"r":56},{"s":0,"t":17,"r":55},{"s":0,"t":19.5,"r":62},{"s":0,"t":22,"r":68},{"s":0,"t":24.5,"r":63},{"s":0,"t":26.5,"r":61},{"s":0,"t":30,"r":63},{"s":0,"t":35,"r":65},{"s":0,"t":40,"r":64},{"s":0,"t":43,"r":62},{"s":0,"t":46,"r":71},{"s":0,"t":50,"r":62},{"s":0,"t":53.5,"r":57},{"s":0,"t":57,"r":71},{"s":0,"t":61,"r":62},{"s":0,"t":64,"r":65},{"s":0,"t":67,"r":68},{"s":0,"t":72,"r":62},{"s":0,"t":76,"r":66},{"s":0,"t":80,"r":60},{"s":0,"t":85,"r":67},{"s":0,"t":90,"r":60},{"s":0,"t":95,"r":63},{"s":0,"t":100,"r":61},{"s":0,"t":104,"r":63},{"s":0,"t":108,"r":60},{"s":0,"t":112,"r":71},{"s":0,"t":116,"r":60},{"s":0,"t":121,"r":65},{"s":0,"t":125,"r":60},{"s":0,"t":130,"r":66},{"s":0,"t":135,"r":71},{"s":0,"t":139.5,"r":55},{"s":0,"t":145,"r":71},{"s":0,"t":150,"r":59},{"s":0,"t":153.5,"r":70},{"s":0,"t":158,"r":60},{"s":0,"t":163,"r":67},{"s":0,"t":168,"r":58},{"s":0,"t":173,"r":66},{"s":0,"t":178,"r":63},{"s":0,"t":184,"r":65},{"s":0,"t":190,"r":63},{"s":0,"t":196,"r":59},{"s":0,"t":200,"r":65},
{"s":0.5,"t":0,"r":160},{"s":0.5,"t":4,"r":78},{"s":0.5,"t":7.3,"r":6},{"s":0.5,"t":8.2,"r":8},{"s":0.5,"t":10,"r":18},{"s":0.5,"t":12,"r":26},{"s":0.5,"t":13.5,"r":27},{"s":0.5,"t":15.5,"r":21},{"s":0.5,"t":17.5,"r":20},{"s":0.5,"t":20,"r":22},{"s":0.5,"t":25,"r":21},{"s":0.5,"t":30,"r":20},{"s":0.5,"t":35,"r":21},{"s":0.5,"t":40,"r":22},{"s":0.5,"t":45,"r":20},{"s":0.5,"t":50,"r":19},{"s":0.5,"t":55,"r":20},{"s":0.5,"t":60,"r":17},{"s":0.5,"t":65,"r":21},{"s":0.5,"t":70,"r":19},{"s":0.5,"t":75,"r":20},{"s":0.5,"t":80,"r":18},{"s":0.5,"t":85,"r":20},{"s":0.5,"t":90,"r":18},{"s":0.5,"t":95,"r":22},{"s":0.5,"t":100,"r":20},{"s":0.5,"t":105,"r":21},{"s":0.5,"t":110,"r":17},{"s":0.5,"t":115,"r":21},{"s":0.5,"t":120,"r":20},{"s":0.5,"t":125,"r":22},{"s":0.5,"t":130,"r":21},{"s":0.5,"t":135,"r":20},{"s":0.5,"t":140,"r":22},{"s":0.5,"t":145,"r":24},{"s":0.5,"t":150,"r":20},{"s":0.5,"t":155,"r":22},{"s":0.5,"t":160,"r":21},{"s":0.5,"t":165,"r":22},{"s":0.5,"t":170,"r":20},{"s":0.5,"t":175,"r":27},{"s":0.5,"t":179,"r":18},{"s":0.5,"t":184,"r":21},{"s":0.5,"t":189,"r":24},{"s":0.5,"t":194,"r":15},{"s":0.5,"t":198,"r":21},{"s":0.5,"t":200,"r":22},
{"s":1,"t":0,"r":160},{"s":1,"t":4,"r":79},{"s":1,"t":7.6,"r":6},{"s":1,"t":8.5,"r":6},{"s":1,"t":11,"r":9},{"s":1,"t":14,"r":13},{"s":1,"t":17,"r":18},{"s":1,"t":20,"r":21},{"s":1,"t":25,"r":22},{"s":1,"t":30,"r":23},{"s":1,"t":35,"r":22},{"s":1,"t":40,"r":22},{"s":1,"t":45,"r":22},{"s":1,"t":50,"r":21},{"s":1,"t":55,"r":16},{"s":1,"t":60,"r":21},{"s":1,"t":65,"r":24},{"s":1,"t":70,"r":25},{"s":1,"t":75,"r":24},{"s":1,"t":80,"r":26},{"s":1,"t":85,"r":24},{"s":1,"t":90,"r":20},{"s":1,"t":95,"r":22},{"s":1,"t":100,"r":27},{"s":1,"t":104,"r":22},{"s":1,"t":108,"r":20},{"s":1,"t":112,"r":28},{"s":1,"t":117,"r":17},{"s":1,"t":122,"r":20},{"s":1,"t":127,"r":21},{"s":1,"t":132,"r":22},{"s":1,"t":137,"r":24},{"s":1,"t":142,"r":21},{"s":1,"t":147,"r":25},{"s":1,"t":150,"r":29},{"s":1,"t":155,"r":18},{"s":1,"t":160,"r":20},{"s":1,"t":165,"r":22},{"s":1,"t":170,"r":18},{"s":1,"t":175,"r":17},{"s":1,"t":180,"r":21},{"s":1,"t":185,"r":24},{"s":1,"t":190,"r":20},{"s":1,"t":195,"r":16},{"s":1,"t":200,"r":19},
{"s":2,"t":0,"r":160},{"s":2,"t":4,"r":80},{"s":2,"t":7.9,"r":7},{"s":2,"t":9,"r":9},{"s":2,"t":12,"r":16},{"s":2,"t":15,"r":20},{"s":2,"t":18,"r":24},{"s":2,"t":22,"r":26},{"s":2,"t":26,"r":24},{"s":2,"t":30,"r":22},{"s":2,"t":35,"r":22},{"s":2,"t":40,"r":27},{"s":2,"t":44,"r":22},{"s":2,"t":48,"r":20},{"s":2,"t":52,"r":23},{"s":2,"t":57,"r":21},{"s":2,"t":62,"r":24},{"s":2,"t":67,"r":22},{"s":2,"t":72,"r":21},{"s":2,"t":77,"r":19},{"s":2,"t":82,"r":23},{"s":2,"t":87,"r":28},{"s":2,"t":92,"r":20},{"s":2,"t":97,"r":19},{"s":2,"t":102,"r":22},{"s":2,"t":107,"r":23},{"s":2,"t":112,"r":24},{"s":2,"t":117,"r":26},{"s":2,"t":122,"r":24},{"s":2,"t":127,"r":23},{"s":2,"t":132,"r":22},{"s":2,"t":137,"r":21},{"s":2,"t":142,"r":24},{"s":2,"t":147,"r":22},{"s":2,"t":152,"r":20},{"s":2,"t":157,"r":21},{"s":2,"t":162,"r":20},{"s":2,"t":167,"r":19},{"s":2,"t":172,"r":18},{"s":2,"t":177,"r":17},{"s":2,"t":182,"r":22},{"s":2,"t":187,"r":26},{"s":2,"t":192,"r":21},{"s":2,"t":197,"r":19},{"s":2,"t":200,"r":22}
],
"l10":[
{"s":0,"t":0,"r":100},{"s":0,"t":1,"r":90},{"s":0,"t":2.2,"r":74},{"s":0,"t":3.5,"r":45},{"s":0,"t":4.8,"r":14},{"s":0,"t":5.3,"r":6},{"s":0,"t":6,"r":22},{"s":0,"t":8,"r":90},{"s":0,"t":10,"r":160},{"s":0,"t":12,"r":218},{"s":0,"t":13.5,"r":250},{"s":0,"t":14.6,"r":262},{"s":0,"t":16.5,"r":252},{"s":0,"t":18.5,"r":220},{"s":0,"t":21,"r":162},{"s":0,"t":24,"r":100},{"s":0,"t":27,"r":58},{"s":0,"t":29.5,"r":35},{"s":0,"t":31.3,"r":26},{"s":0,"t":32,"r":27},{"s":0,"t":33.5,"r":50},{"s":0,"t":35.5,"r":88},{"s":0,"t":37,"r":110},{"s":0,"t":38.6,"r":120},{"s":0,"t":40.5,"r":114},{"s":0,"t":43,"r":93},{"s":0,"t":45,"r":76},{"s":0,"t":47,"r":68},{"s":0,"t":49,"r":74},{"s":0,"t":51,"r":85},{"s":0,"t":54.5,"r":97},{"s":0,"t":57.5,"r":92},{"s":0,"t":61,"r":84},{"s":0,"t":65,"r":86},{"s":0,"t":70,"r":90},{"s":0,"t":75,"r":86},{"s":0,"t":80,"r":89},{"s":0,"t":85,"r":88},{"s":0,"t":90,"r":89},{"s":0,"t":95,"r":86},{"s":0,"t":100,"r":88},{"s":0,"t":105,"r":88},{"s":0,"t":110,"r":92},{"s":0,"t":115,"r":87},{"s":0,"t":120,"r":85},{"s":0,"t":125,"r":88},{"s":0,"t":130,"r":90},{"s":0,"t":135,"r":87},{"s":0,"t":140,"r":91},{"s":0,"t":145,"r":86},{"s":0,"t":150,"r":90},{"s":0,"t":155,"r":85},{"s":0,"t":160,"r":97},{"s":0,"t":165,"r":90},{"s":0,"t":170,"r":86},{"s":0,"t":175,"r":90},{"s":0,"t":180,"r":92},{"s":0,"t":185,"r":90},{"s":0,"t":190,"r":89},{"s":0,"t":195,"r":88},{"s":0,"t":200,"r":87},
{"s":0.5,"t":0,"r":160},{"s":0.5,"t":2.5,"r":89},{"s":0.5,"t":4.5,"r":30},{"s":0.5,"t":5.4,"r":7},{"s":0.5,"t":6.3,"r":25},{"s":0.5,"t":8,"r":80},{"s":0.5,"t":10.5,"r":146},{"s":0.5,"t":13,"r":194},{"s":0.5,"t":15.5,"r":212},{"s":0.5,"t":18,"r":202},{"s":0.5,"t":21,"r":165},{"s":0.5,"t":24,"r":118},{"s":0.5,"t":27,"r":72},{"s":0.5,"t":30,"r":34},{"s":0.5,"t":31.8,"r":22},{"s":0.5,"t":32.5,"r":20},{"s":0.5,"t":33.3,"r":24},{"s":0.5,"t":35.5,"r":42},{"s":0.5,"t":38,"r":55},{"s":0.5,"t":40,"r":60},{"s":0.5,"t":42,"r":56},{"s":0.5,"t":44.5,"r":43},{"s":0.5,"t":46.5,"r":35},{"s":0.5,"t":48,"r":33},{"s":0.5,"t":50,"r":35},{"s":0.5,"t":53,"r":38},{"s":0.5,"t":57,"r":41},{"s":0.5,"t":62,"r":41},{"s":0.5,"t":67,"r":40},{"s":0.5,"t":72,"r":42},{"s":0.5,"t":77,"r":44},{"s":0.5,"t":82,"r":42},{"s":0.5,"t":87,"r":44},{"s":0.5,"t":92,"r":46},{"s":0.5,"t":97,"r":42},{"s":0.5,"t":102,"r":45},{"s":0.5,"t":107,"r":46},{"s":0.5,"t":112,"r":43},{"s":0.5,"t":117,"r":44},{"s":0.5,"t":122,"r":40},{"s":0.5,"t":127,"r":46},{"s":0.5,"t":132,"r":48},{"s":0.5,"t":137,"r":43},{"s":0.5,"t":142,"r":52},{"s":0.5,"t":147,"r":44},{"s":0.5,"t":152,"r":41},{"s":0.5,"t":157,"r":43},{"s":0.5,"t":162,"r":52},{"s":0.5,"t":167,"r":46},{"s":0.5,"t":172,"r":45},{"s":0.5,"t":177,"r":47},{"s":0.5,"t":182,"r":49},{"s":0.5,"t":187,"r":43},{"s":0.5,"t":192,"r":45},{"s":0.5,"t":196,"r":47},{"s":0.5,"t":200,"r":50},
{"s":1,"t":0,"r":160},{"s":1,"t":2.5,"r":89},{"s":1,"t":4.5,"r":30},{"s":1,"t":5.4,"r":7},{"s":1,"t":6.3,"r":26},{"s":1,"t":8,"r":82},{"s":1,"t":10.5,"r":150},{"s":1,"t":13,"r":199},{"s":1,"t":15.5,"r":216},{"s":1,"t":18,"r":205},{"s":1,"t":21,"r":168},{"s":1,"t":24,"r":120},{"s":1,"t":27,"r":74},{"s":1,"t":30,"r":36},{"s":1,"t":31.8,"r":24},{"s":1,"t":32.5,"r":22},{"s":1,"t":33.3,"r":26},{"s":1,"t":35.5,"r":45},{"s":1,"t":38,"r":58},{"s":1,"t":40.5,"r":62},{"s":1,"t":42.5,"r":56},{"s":1,"t":45,"r":42},{"s":1,"t":47,"r":32},{"s":1,"t":48.5,"r":28},{"s":1,"t":50.5,"r":31},{"s":1,"t":53.5,"r":36},{"s":1,"t":57,"r":38},{"s":1,"t":62,"r":38},{"s":1,"t":67,"r":36},{"s":1,"t":72,"r":33},{"s":1,"t":77,"r":38},{"s":1,"t":82,"r":42},{"s":1,"t":87,"r":38},{"s":1,"t":92,"r":36},{"s":1,"t":97,"r":40},{"s":1,"t":102,"r":37},{"s":1,"t":107,"r":35},{"s":1,"t":112,"r":40},{"s":1,"t":117,"r":36},{"s":1,"t":122,"r":33},{"s":1,"t":127,"r":37},{"s":1,"t":132,"r":42},{"s":1,"t":137,"r":34},{"s":1,"t":142,"r":36},{"s":1,"t":147,"r":38},{"s":1,"t":152,"r":34},{"s":1,"t":157,"r":38},{"s":1,"t":162,"r":41},{"s":1,"t":167,"r":36},{"s":1,"t":172,"r":38},{"s":1,"t":177,"r":42},{"s":1,"t":182,"r":38},{"s":1,"t":187,"r":40},{"s":1,"t":192,"r":35},{"s":1,"t":196,"r":36},{"s":1,"t":200,"r":43},
{"s":2,"t":0,"r":160},{"s":2,"t":2.5,"r":89},{"s":2,"t":4.5,"r":30},{"s":2,"t":5.5,"r":6},{"s":2,"t":6.4,"r":24},{"s":2,"t":8,"r":76},{"s":2,"t":10.5,"r":142},{"s":2,"t":13,"r":190},{"s":2,"t":15.8,"r":207},{"s":2,"t":18.5,"r":196},{"s":2,"t":21.5,"r":158},{"s":2,"t":24.5,"r":110},{"s":2,"t":27.5,"r":64},{"s":2,"t":30.5,"r":26},{"s":2,"t":32,"r":18},{"s":2,"t":32.5,"r":17},{"s":2,"t":33.3,"r":21},{"s":2,"t":36,"r":38},{"s":2,"t":38.5,"r":47},{"s":2,"t":41,"r":50},{"s":2,"t":43,"r":45},{"s":2,"t":45.5,"r":30},{"s":2,"t":47.5,"r":20},{"s":2,"t":49,"r":18},{"s":2,"t":51,"r":21},{"s":2,"t":54,"r":26},{"s":2,"t":57,"r":28},{"s":2,"t":62,"r":28},{"s":2,"t":67,"r":31},{"s":2,"t":72,"r":30},{"s":2,"t":77,"r":31},{"s":2,"t":82,"r":28},{"s":2,"t":87,"r":30},{"s":2,"t":92,"r":27},{"s":2,"t":97,"r":31},{"s":2,"t":102,"r":33},{"s":2,"t":107,"r":28},{"s":2,"t":112,"r":31},{"s":2,"t":117,"r":29},{"s":2,"t":122,"r":28},{"s":2,"t":127,"r":30},{"s":2,"t":132,"r":28},{"s":2,"t":137,"r":28},{"s":2,"t":142,"r":25},{"s":2,"t":147,"r":31},{"s":2,"t":152,"r":30},{"s":2,"t":157,"r":28},{"s":2,"t":162,"r":29},{"s":2,"t":167,"r":32},{"s":2,"t":172,"r":29},{"s":2,"t":177,"r":31},{"s":2,"t":182,"r":32},{"s":2,"t":187,"r":28},{"s":2,"t":192,"r":27},{"s":2,"t":196,"r":29},{"s":2,"t":200,"r":35}
]
},
"columns":3,
"bounds":"flush",
"spacing":{"row":59,"column":85},
"resolve":{"scale":{"x":"independent","y":"independent"},"legend":{"color":"independent"}},
"concat":[
{"data":{"name":"p0"},"width":268,"height":126,"title":"Controller = PID , Wind = 0","layer":[{"mark":{"type":"line","interpolate":"monotone","strokeWidth":1.2,"clip":true},"encoding":{"x":{"field":"t","type":"quantitative","scale":{"domain":[0,200],"nice":false},"axis":{"values":[0,50,100,150,200],"title":"Time (sec)"}},"y":{"field":"r","type":"quantitative","scale":{"domain":[0,160],"nice":false},"axis":{"values":[0,50,100,150],"title":"Package radius (m)"}},"color":{"field":"s","type":"nominal","scale":{"domain":[0,0.5,1,2],"range":["#0072BD","#D95319","#EDB120","#7E2F8E"]},"legend":null}}},{"mark":{"type":"point","opacity":0},"encoding":{"x":{"field":"t","type":"quantitative","axis":{"orient":"top","values":[0,50,100,150,200],"labels":false,"title":null,"domain":false}},"y":{"field":"r","type":"quantitative","axis":{"orient":"right","values":[0,50,100,150],"labels":false,"title":null,"domain":false}}}}],"resolve":{"axis":{"x":"independent","y":"independent"}}},
{"data":{"name":"n0"},"width":268,"height":126,"title":"Controller = Nonlinear , Wind = 0","layer":[{"mark":{"type":"line","interpolate":"monotone","strokeWidth":1.2,"clip":true},"encoding":{"x":{"field":"t","type":"quantitative","scale":{"domain":[0,200],"nice":false},"axis":{"values":[0,50,100,150,200],"title":"Time (sec)"}},"y":{"field":"r","type":"quantitative","scale":{"domain":[0,160],"nice":false},"axis":{"values":[0,50,100,150],"title":"Package radius (m)"}},"color":{"field":"s","type":"nominal","scale":{"domain":[0,0.5,1,2],"range":["#0072BD","#D95319","#EDB120","#7E2F8E"]},"legend":null}}},{"mark":{"type":"point","opacity":0},"encoding":{"x":{"field":"t","type":"quantitative","axis":{"orient":"top","values":[0,50,100,150,200],"labels":false,"title":null,"domain":false}},"y":{"field":"r","type":"quantitative","axis":{"orient":"right","values":[0,50,100,150],"labels":false,"title":null,"domain":false}}}}],"resolve":{"axis":{"x":"independent","y":"independent"}}},
{"data":{"name":"l0"},"width":268,"height":126,"title":"Controller = LQR , Wind = 0","layer":[{"mark":{"type":"line","interpolate":"monotone","strokeWidth":1.2,"clip":true},"encoding":{"x":{"field":"t","type":"quantitative","scale":{"domain":[0,200],"nice":false},"axis":{"values":[0,50,100,150,200],"title":"Time (sec)"}},"y":{"field":"r","type":"quantitative","scale":{"domain":[0,300],"nice":false},"axis":{"values":[0,100,200,300],"title":"Package radius (m)"}},"color":{"field":"s","type":"nominal","scale":{"domain":[0,0.5,1,2],"range":["#0072BD","#D95319","#EDB120","#7E2F8E"]},"legend":null}}},{"mark":{"type":"point","opacity":0},"encoding":{"x":{"field":"t","type":"quantitative","axis":{"orient":"top","values":[0,50,100,150,200],"labels":false,"title":null,"domain":false}},"y":{"field":"r","type":"quantitative","axis":{"orient":"right","values":[0,100,200,300],"labels":false,"title":null,"domain":false}}}}],"resolve":{"axis":{"x":"independent","y":"independent"}}},
{"data":{"name":"p5"},"width":268,"height":126,"title":"Controller = PID , Wind = 5","layer":[{"mark":{"type":"line","interpolate":"monotone","strokeWidth":1.2,"clip":true},"encoding":{"x":{"field":"t","type":"quantitative","scale":{"domain":[0,200],"nice":false},"axis":{"values":[0,50,100,150,200],"title":"Time (sec)"}},"y":{"field":"r","type":"quantitative","scale":{"domain":[0,160],"nice":false},"axis":{"values":[0,50,100,150],"title":"Package radius (m)"}},"color":{"field":"s","type":"nominal","scale":{"domain":[0,0.5,1,2],"range":["#0072BD","#D95319","#EDB120","#7E2F8E"]},"legend":null}}},{"mark":{"type":"point","opacity":0},"encoding":{"x":{"field":"t","type":"quantitative","axis":{"orient":"top","values":[0,50,100,150,200],"labels":false,"title":null,"domain":false}},"y":{"field":"r","type":"quantitative","axis":{"orient":"right","values":[0,50,100,150],"labels":false,"title":null,"domain":false}}}}],"resolve":{"axis":{"x":"independent","y":"independent"}}},
{"data":{"name":"n5"},"width":268,"height":126,"title":"Controller = Nonlinear , Wind = 5","layer":[{"mark":{"type":"line","interpolate":"monotone","strokeWidth":1.2,"clip":true},"encoding":{"x":{"field":"t","type":"quantitative","scale":{"domain":[0,200],"nice":false},"axis":{"values":[0,50,100,150,200],"title":"Time (sec)"}},"y":{"field":"r","type":"quantitative","scale":{"domain":[0,160],"nice":false},"axis":{"values":[0,50,100,150],"title":"Package radius (m)"}},"color":{"field":"s","type":"nominal","scale":{"domain":[0,0.5,1,2],"range":["#0072BD","#D95319","#EDB120","#7E2F8E"]},"legend":null}}},{"mark":{"type":"point","opacity":0},"encoding":{"x":{"field":"t","type":"quantitative","axis":{"orient":"top","values":[0,50,100,150,200],"labels":false,"title":null,"domain":false}},"y":{"field":"r","type":"quantitative","axis":{"orient":"right","values":[0,50,100,150],"labels":false,"title":null,"domain":false}}}}],"resolve":{"axis":{"x":"independent","y":"independent"}}},
{"data":{"name":"l5"},"width":268,"height":126,"title":"Controller = LQR , Wind = 5","layer":[{"mark":{"type":"line","interpolate":"monotone","strokeWidth":1.2,"clip":true},"encoding":{"x":{"field":"t","type":"quantitative","scale":{"domain":[0,200],"nice":false},"axis":{"values":[0,50,100,150,200],"title":"Time (sec)"}},"y":{"field":"r","type":"quantitative","scale":{"domain":[0,300],"nice":false},"axis":{"values":[0,100,200,300],"title":"Package radius (m)"}},"color":{"field":"s","type":"nominal","scale":{"domain":[0,0.5,1,2],"range":["#0072BD","#D95319","#EDB120","#7E2F8E"]},"legend":null}}},{"mark":{"type":"point","opacity":0},"encoding":{"x":{"field":"t","type":"quantitative","axis":{"orient":"top","values":[0,50,100,150,200],"labels":false,"title":null,"domain":false}},"y":{"field":"r","type":"quantitative","axis":{"orient":"right","values":[0,100,200,300],"labels":false,"title":null,"domain":false}}}}],"resolve":{"axis":{"x":"independent","y":"independent"}}},
{"data":{"name":"p10"},"width":268,"height":126,"title":"Controller = PID , Wind = 10","layer":[{"mark":{"type":"line","interpolate":"monotone","strokeWidth":1.2,"clip":true},"encoding":{"x":{"field":"t","type":"quantitative","scale":{"domain":[0,200],"nice":false},"axis":{"values":[0,50,100,150,200],"title":"Time (sec)"}},"y":{"field":"r","type":"quantitative","scale":{"domain":[0,160],"nice":false},"axis":{"values":[0,50,100,150],"title":"Package radius (m)"}},"color":{"field":"s","type":"nominal","scale":{"domain":[0,0.5,1,2],"range":["#0072BD","#D95319","#EDB120","#7E2F8E"]},"legend":null}}},{"mark":{"type":"point","opacity":0},"encoding":{"x":{"field":"t","type":"quantitative","axis":{"orient":"top","values":[0,50,100,150,200],"labels":false,"title":null,"domain":false}},"y":{"field":"r","type":"quantitative","axis":{"orient":"right","values":[0,50,100,150],"labels":false,"title":null,"domain":false}}}}],"resolve":{"axis":{"x":"independent","y":"independent"}}},
{"data":{"name":"n10"},"width":268,"height":126,"title":"Controller = Nonlinear , Wind = 10","layer":[{"mark":{"type":"line","interpolate":"monotone","strokeWidth":1.2,"clip":true},"encoding":{"x":{"field":"t","type":"quantitative","scale":{"domain":[0,200],"nice":false},"axis":{"values":[0,50,100,150,200],"title":"Time (sec)"}},"y":{"field":"r","type":"quantitative","scale":{"domain":[0,160],"nice":false},"axis":{"values":[0,50,100,150],"title":"Package radius (m)"}},"color":{"field":"s","type":"nominal","scale":{"domain":[0,0.5,1,2],"range":["#0072BD","#D95319","#EDB120","#7E2F8E"]},"legend":null}}},{"mark":{"type":"point","opacity":0},"encoding":{"x":{"field":"t","type":"quantitative","axis":{"orient":"top","values":[0,50,100,150,200],"labels":false,"title":null,"domain":false}},"y":{"field":"r","type":"quantitative","axis":{"orient":"right","values":[0,50,100,150],"labels":false,"title":null,"domain":false}}}}],"resolve":{"axis":{"x":"independent","y":"independent"}}},
{"data":{"name":"l10"},"width":268,"height":126,"title":"Controller = LQR , Wind = 10","layer":[{"mark":{"type":"line","interpolate":"monotone","strokeWidth":1.2,"clip":true},"encoding":{"x":{"field":"t","type":"quantitative","scale":{"domain":[0,200],"nice":false},"axis":{"values":[0,50,100,150,200],"title":"Time (sec)"}},"y":{"field":"r","type":"quantitative","scale":{"domain":[0,300],"nice":false},"axis":{"values":[0,100,200,300],"title":"Package radius (m)"}},"color":{"field":"s","type":"nominal","scale":{"domain":[0,0.5,1,2],"range":["#0072BD","#D95319","#EDB120","#7E2F8E"]},"legend":{"orient":"top-right","offset":10,"title":null,"symbolType":"M-1,0H3.6","symbolSize":169,"symbolStrokeWidth":1.2,"labelFontSize":10,"labelFont":"Liberation Sans","labelColor":"#000","strokeColor":"#262626","fillColor":"white","padding":4,"rowPadding":0,"labelOffset":19,"labelExpr":"'S=' + format(datum.value, '.1f')"}}}},{"mark":{"type":"point","opacity":0},"encoding":{"x":{"field":"t","type":"quantitative","axis":{"orient":"top","values":[0,50,100,150,200],"labels":false,"title":null,"domain":false}},"y":{"field":"r","type":"quantitative","axis":{"orient":"right","values":[0,100,200,300],"labels":false,"title":null,"domain":false}}}}],"resolve":{"axis":{"x":"independent","y":"independent"}}}
]
}
